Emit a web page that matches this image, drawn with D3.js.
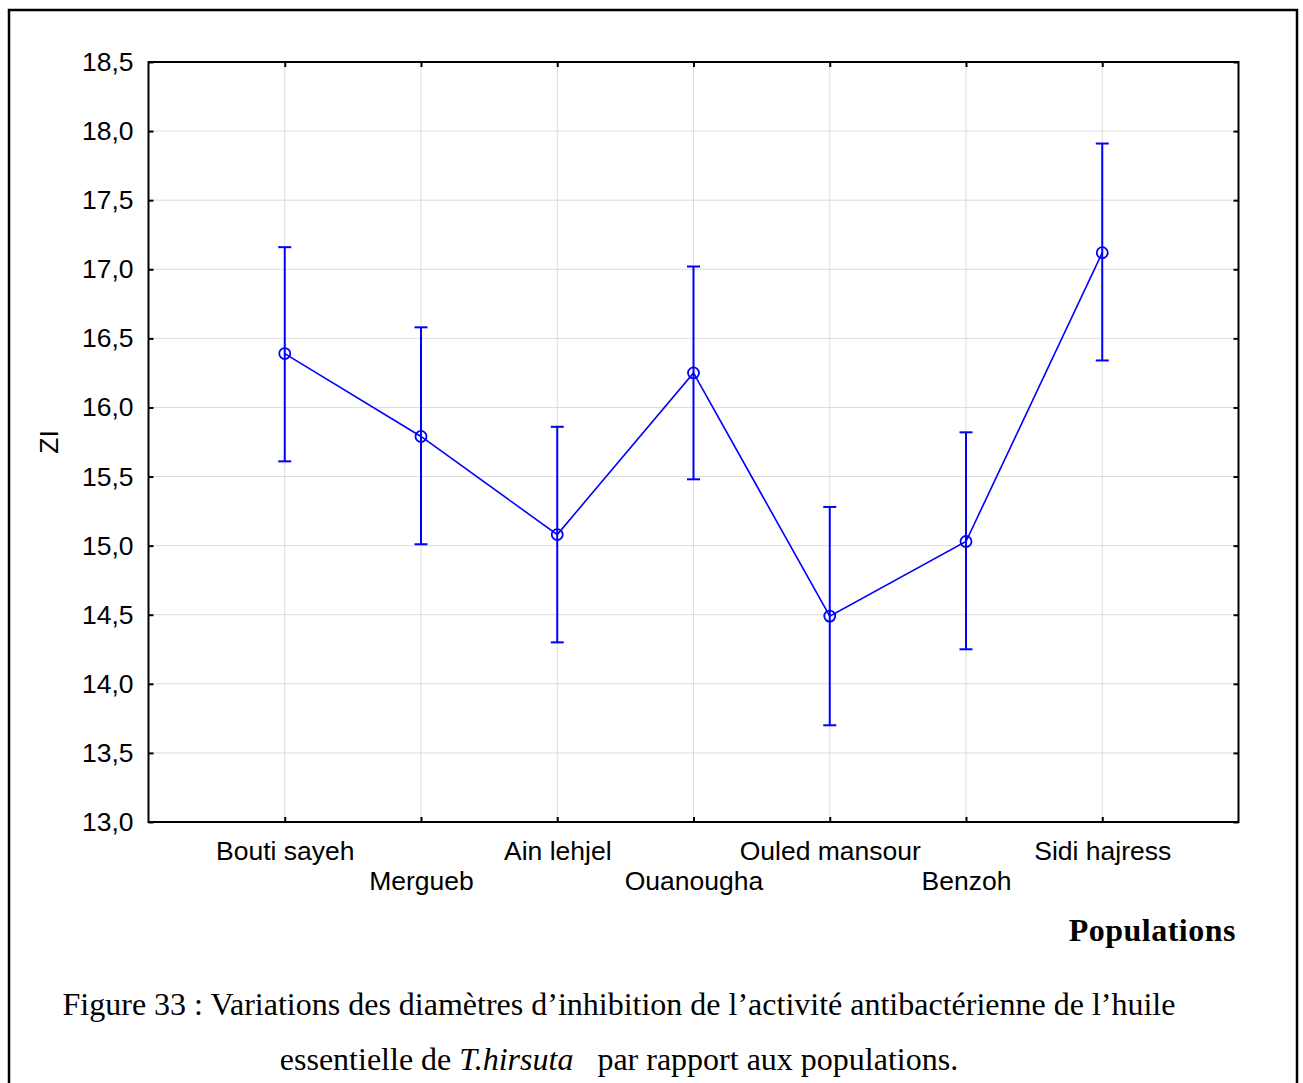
<!DOCTYPE html>
<html>
<head>
<meta charset="utf-8">
<script src="https://cdn.jsdelivr.net/npm/d3@7"></script>
<style>
  body { margin: 0; background: #fff; }
  svg { display: block; }
</style>
</head>
<body>
<div id="graph"></div>
<script>
// populations, in plot order
var populations = ['Bouti sayeh', 'Mergueb', 'Ain lehjel', 'Ouanougha', 'Ouled mansour', 'Benzoh', 'Sidi hajress']
// mean ZI and the error bar ends
var means = [16.39, 15.79, 15.08, 16.25, 14.49, 15.03, 17.12]
var upper = [17.16, 16.58, 15.86, 17.02, 15.28, 15.82, 17.91]
var lower = [15.61, 15.01, 14.30, 15.48, 13.70, 14.25, 16.34]
var yTicks = [13.0, 13.5, 14.0, 14.5, 15.0, 15.5, 16.0, 16.5, 17.0, 17.5, 18.0, 18.5]

var width = 1303, height = 1083
var plot = {left: 148.5, right: 1238.5, top: 62, bottom: 822}

var svg = d3.select('#graph').append('svg')
  .attr('width', width).attr('height', height)

// outer frame (no bottom edge visible)
svg.append('path')
  .attr('d', `M 9 ${height + 5} V 10 H 1297 V ${height + 5}`)
  .attr('fill', 'none').attr('stroke', '#000').attr('stroke-width', 2.5)

var x = d3.scalePoint().domain(populations)
  .range([plot.left, plot.right]).padding(1)
var y = d3.scaleLinear().domain([13, 18.5]).range([plot.bottom, plot.top])

var font = '"Liberation Sans", Arial, sans-serif'
var serif = '"Liberation Serif", "Times New Roman", serif'
var tickSize = '26.5px'

// gridlines
svg.append('g').selectAll('line').data(yTicks.slice(1, -1)).join('line')
  .attr('x1', plot.left).attr('x2', plot.right)
  .attr('y1', d => y(d)).attr('y2', d => y(d))
  .attr('stroke', '#dcdcdc').attr('stroke-width', 1)
svg.append('g').selectAll('line').data(populations).join('line')
  .attr('x1', d => x(d)).attr('x2', d => x(d))
  .attr('y1', plot.top).attr('y2', plot.bottom)
  .attr('stroke', '#dcdcdc').attr('stroke-width', 1)

// axes with inward ticks
var yAxis = svg.append('g').attr('transform', `translate(${plot.left},0)`)
  .call(d3.axisLeft(y).tickValues(yTicks).tickSizeInner(-5).tickSizeOuter(0)
    .tickPadding(15).tickFormat(d => d3.format('.1f')(d).replace('.', ',')))
yAxis.select('.domain').remove()
yAxis.selectAll('line').attr('stroke-width', 2)
yAxis.selectAll('text').style('font-family', font).style('font-size', tickSize).attr('fill', '#000')

svg.append('g').attr('transform', `translate(${plot.right},0)`)
  .call(d3.axisRight(y).tickValues(yTicks).tickSizeInner(-5).tickSizeOuter(0).tickFormat(''))
  .call(g => g.select('.domain').remove())
  .selectAll('line').attr('stroke-width', 2)

var xAxis = svg.append('g').attr('transform', `translate(0,${plot.bottom})`)
  .call(d3.axisBottom(x).tickSizeInner(-5).tickSizeOuter(0).tickPadding(0))
xAxis.select('.domain').remove()
xAxis.selectAll('line').attr('stroke-width', 2)
xAxis.selectAll('text')
  .attr('y', (d, i) => i % 2 ? 68 : 38).attr('dy', 0)
  .style('font-family', font).style('font-size', tickSize).attr('fill', '#000')

svg.append('g').attr('transform', `translate(0,${plot.top})`)
  .call(d3.axisTop(x).tickSizeInner(-5).tickSizeOuter(0).tickFormat(''))
  .call(g => g.select('.domain').remove())
  .selectAll('line').attr('stroke-width', 2)

// plot frame
svg.append('rect')
  .attr('x', plot.left).attr('y', plot.top)
  .attr('width', plot.right - plot.left).attr('height', plot.bottom - plot.top)
  .attr('fill', 'none').attr('stroke', '#000').attr('stroke-width', 2)

// error bars
var blue = '#0000ff'
var bars = svg.append('g').selectAll('g').data(populations).join('g')
  .attr('stroke', blue).attr('stroke-width', 2)
bars.append('line')
  .attr('x1', d => x(d)).attr('x2', d => x(d))
  .attr('y1', (d, i) => y(upper[i])).attr('y2', (d, i) => y(lower[i]))
bars.append('line')
  .attr('x1', d => x(d) - 6.5).attr('x2', d => x(d) + 6.5)
  .attr('y1', (d, i) => y(upper[i])).attr('y2', (d, i) => y(upper[i]))
bars.append('line')
  .attr('x1', d => x(d) - 6.5).attr('x2', d => x(d) + 6.5)
  .attr('y1', (d, i) => y(lower[i])).attr('y2', (d, i) => y(lower[i]))

// mean line and markers
svg.append('path')
  .attr('d', d3.line().x(d => x(d)).y((d, i) => y(means[i]))(populations))
  .attr('fill', 'none').attr('stroke', blue).attr('stroke-width', 1.6)
svg.append('g').selectAll('circle').data(populations).join('circle')
  .attr('cx', d => x(d)).attr('cy', (d, i) => y(means[i])).attr('r', 5.5)
  .attr('fill', 'none').attr('stroke', blue).attr('stroke-width', 1.8)

// axis titles
svg.append('text')
  .attr('transform', `translate(58,${(plot.top + plot.bottom) / 2}) rotate(-90)`)
  .attr('text-anchor', 'middle')
  .style('font-family', font).style('font-size', tickSize)
  .text('ZI')

svg.append('text')
  .attr('x', 1236).attr('y', 941).attr('text-anchor', 'end')
  .style('font-family', serif).style('font-size', '32px').style('font-weight', 'bold')
  .style('letter-spacing', '0.5px')
  .text('Populations')

// caption
var cap = svg.append('g').style('font-family', serif).style('font-size', '32px')
cap.append('text').attr('x', 619).attr('y', 1015).attr('text-anchor', 'middle')
  .text('Figure 33 : Variations des diamètres d’inhibition de l’activité antibactérienne de l’huile')
var line2 = cap.append('text').attr('x', 619).attr('y', 1070).attr('text-anchor', 'middle')
line2.append('tspan').text('essentielle de ')
line2.append('tspan').style('font-style', 'italic').text('T.hirsuta')
line2.append('tspan').attr('xml:space', 'preserve').style('white-space', 'pre').text('   par rapport aux populations.')
</script>
</body>
</html>
